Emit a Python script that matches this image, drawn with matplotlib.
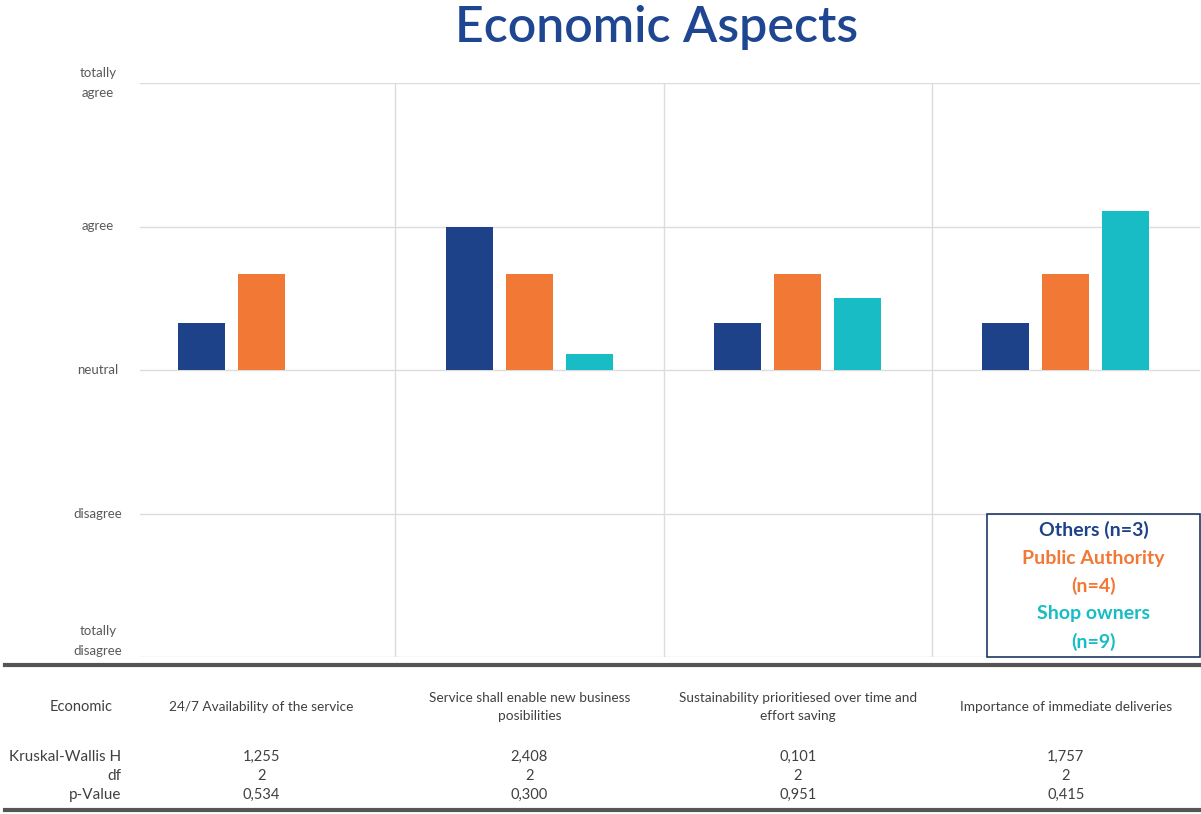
import numpy as np
import matplotlib.pyplot as plt
from matplotlib.patches import Rectangle
from matplotlib.transforms import blended_transform_factory

plt.rcParams['font.family'] = ['Lato', 'DejaVu Sans']

# survey means per stakeholder group (1 = totally disagree ... 5 = totally agree)
categories = ["24/7 Availability of the service",
              "Service shall enable new business\nposibilities",
              "Sustainability prioritiesed over time and\neffort saving",
              "Importance of immediate deliveries"]
others = [3.33, 4.00, 3.33, 3.33]
public_authority = [3.67, 3.67, 3.67, 3.67]
shop_owners = [3.00, 3.11, 3.50, 4.11]

levels = [1, 2, 3, 4, 5]
level_labels = ["totally\ndisagree", "disagree", "neutral", "agree", "totally\nagree"]

# Kruskal-Wallis test results
kw_h = ["1,255", "2,408", "0,101", "1,757"]
kw_df = ["2", "2", "2", "2"]
kw_p = ["0,534", "0,300", "0,951", "0,415"]

c_others = "#1d4289"
c_pa = "#f27835"
c_shop = "#17bcc4"
c_title = "#1f4690"

W, H = 1201, 814
fig = plt.figure(figsize=(W / 100, H / 100), dpi=100)
ax = fig.add_axes([127 / W, 1 - 657 / H, 1073 / W, 574 / H])

x = np.arange(len(categories))
bw = 0.175
off = 0.224
base = 3
ax.bar(x - off, np.array(others) - base, bw, bottom=base, color=c_others, zorder=3)
ax.bar(x, np.array(public_authority) - base, bw, bottom=base, color=c_pa, zorder=3)
ax.bar(x + off, np.array(shop_owners) - base, bw, bottom=base, color=c_shop, zorder=3)

ax.set_xlim(-0.5, len(categories) - 0.5)
ax.set_ylim(1, 5)
for s in ax.spines.values():
    s.set_visible(False)
ax.set_xticks([])
ax.set_yticks([])

# grid
for lv in levels:
    ax.axhline(lv, xmin=13 / 1073, xmax=1, color="#dcdcdc", lw=1, zorder=1)
for b in x[:-1] + 0.5:
    ax.axvline(b, color="#dcdcdc", lw=1, zorder=1)

# level labels
lab_tr = blended_transform_factory(fig.transFigure, ax.transData)
for lv, lab in zip(levels, level_labels):
    yy = lv + 0.11 if lv == 1 else lv
    fig.text(98 / W, yy, lab, transform=lab_tr, ha="center", va="center",
             fontsize=9.5, color="#595959", linespacing=1.75)

# title
fig.text(657 / W, 1 - 28 / H, "Economic Aspects", ha="center", va="center",
         fontsize=36, fontweight="semibold", color=c_title)

# legend box
ax.add_patch(Rectangle((2.705, 1.0), 0.795, 1.0, fill=False, edgecolor="#1f3864",
                       lw=1.2, clip_on=False, zorder=4))
leg = [("Others (n=3)", c_others, 1.885), ("Public Authority", c_pa, 1.683),
       ("(n=4)", c_pa, 1.495), ("Shop owners", c_shop, 1.300), ("(n=9)", c_shop, 1.105)]
for txt, col, yy in leg:
    ax.text(3.103, yy, txt, ha="center", va="center", fontsize=14,
            fontweight="bold", color=col, zorder=5)

# statistics table under the chart
fy = lambda py: 1 - py / H
for py in (665, 810):
    fig.add_artist(plt.Line2D([5 / W, 1200 / W], [fy(py), fy(py)], color="#555555",
                              lw=3, transform=fig.transFigure))

tr = blended_transform_factory(ax.transData, fig.transFigure)
tcol = "#404040"
fig.text(113 / W, fy(707), "Economic", ha="right", va="center", fontsize=10.5, color=tcol)
for lab, py in [("Kruskal-Wallis H", 757), ("df", 776), ("p-Value", 795)]:
    fig.text(121 / W, fy(py), lab, ha="right", va="center", fontsize=11, color=tcol)
for i, cat in enumerate(categories):
    fig.text(i, fy(707), cat, transform=tr, ha="center", va="center",
             fontsize=9.8, color=tcol, linespacing=1.6)
    for vals, py in [(kw_h, 757), (kw_df, 776), (kw_p, 795)]:
        fig.text(i, fy(py), vals[i], transform=tr, ha="center", va="center",
                 fontsize=10.5, color=tcol)

fig.savefig("out.png", dpi=100, facecolor="white")
